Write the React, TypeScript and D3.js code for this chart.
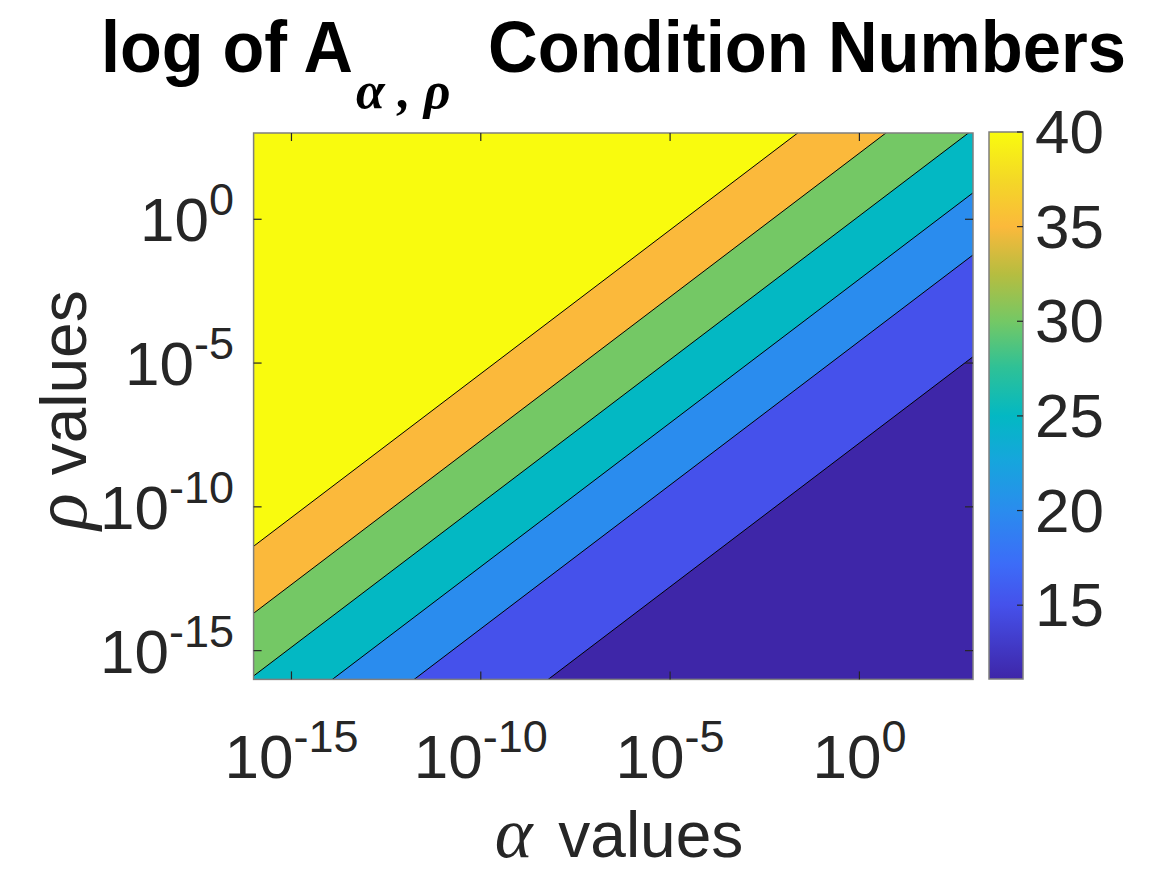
import React, { useEffect, useRef } from 'react';
import * as d3 from 'd3';

// contour levels (log of condition number) and where each contour line sits,
// as offset log10(rho) - log10(alpha)
const levels = [15, 20, 25, 30, 35, 40];
const lineOffsets = [-7.78, -4.24, -2.08, 0.12, 2.3, 4.63];
const colorRange = [11.1, 40];

const axisDomain = [1e-16, 1e3];
const xTicks = [-15, -10, -5, 0];
const yTicks = [-15, -10, -5, 0];
const cbarTicks = [15, 20, 25, 30, 35, 40];

// parula-like colormap stops
const parula: [number, string][] = [
  [0.0, '#3E26A8'],
  [0.135, '#4551EB'],
  [0.21, '#3C6CF8'],
  [0.308, '#2A8CEE'],
  [0.4, '#16A6DC'],
  [0.481, '#03B8C3'],
  [0.57, '#2FC196'],
  [0.654, '#74C865'],
  [0.74, '#B6BD40'],
  [0.827, '#FBB93B'],
  [0.91, '#F4D727'],
  [1.0, '#F9FB0E'],
];

const W = 1167;
const H = 875;
const plot = { left: 253.6, right: 973, top: 133, bottom: 679.4 };
const cbar = { left: 989, right: 1023, top: 132, bottom: 679 };
const SANS = '"Liberation Sans", Arial, Helvetica, sans-serif';
const SERIF = '"Liberation Serif", "Times New Roman", serif';

export default function App() {
  const ref = useRef<SVGSVGElement>(null);

  useEffect(() => {
    if (!ref.current) return;
    const svg = d3.select(ref.current);
    svg.selectAll('*').remove();

    const x = d3.scaleLog().domain(axisDomain).range([plot.left, plot.right]);
    const y = d3.scaleLog().domain(axisDomain).range([plot.bottom, plot.top]);
    const cmap = d3
      .scaleLinear<string>()
      .domain(parula.map((d) => colorRange[0] + d[0] * (colorRange[1] - colorRange[0])))
      .range(parula.map((d) => d[1]))
      .interpolate(d3.interpolateRgb)
      .clamp(true);

    const defs = svg.append('defs');
    defs
      .append('clipPath')
      .attr('id', 'plotclip')
      .append('rect')
      .attr('x', plot.left)
      .attr('y', plot.top)
      .attr('width', plot.right - plot.left)
      .attr('height', plot.bottom - plot.top);

    const grad = defs
      .append('linearGradient')
      .attr('id', 'cbar')
      .attr('x1', 0).attr('x2', 0)
      .attr('y1', 1).attr('y2', 0);
    grad
      .selectAll('stop')
      .data(parula)
      .join('stop')
      .attr('offset', (d) => d[0])
      .attr('stop-color', (d) => d[1]);

    const g = svg.append('g').attr('clip-path', 'url(#plotclip)');

    // lowest band
    g.append('rect')
      .attr('x', plot.left)
      .attr('y', plot.top)
      .attr('width', plot.right - plot.left)
      .attr('height', plot.bottom - plot.top)
      .attr('fill', cmap(colorRange[0]));

    const a0 = axisDomain[0];
    const a1 = axisDomain[1];
    const bandPath = (c: number) => {
      const pts: [number, number][] = [
        [x(a0), y(a0 * Math.pow(10, c))],
        [x(a1), y(a1 * Math.pow(10, c))],
        [x(a1), plot.top - 2000],
        [x(a0), plot.top - 2000],
      ];
      return d3.line()(pts) + 'Z';
    };

    g.selectAll('.band')
      .data(levels)
      .join('path')
      .attr('class', 'band')
      .attr('d', (_, i) => bandPath(lineOffsets[i]))
      .attr('fill', (d) => cmap(d));

    g.selectAll('.cline')
      .data(lineOffsets)
      .join('path')
      .attr('class', 'cline')
      .attr('d', (c) =>
        d3.line()([
          [x(a0), y(a0 * Math.pow(10, c))],
          [x(a1), y(a1 * Math.pow(10, c))],
        ])
      )
      .attr('fill', 'none')
      .attr('stroke', '#000')
      .attr('stroke-width', 1);

    // box
    svg.append('rect')
      .attr('x', plot.left)
      .attr('y', plot.top)
      .attr('width', plot.right - plot.left)
      .attr('height', plot.bottom - plot.top)
      .attr('fill', 'none')
      .attr('stroke', '#7f7f7f')
      .attr('stroke-width', 1.5);

    const tl = 8;
    const tickG = svg.append('g').attr('stroke', '#262626').attr('stroke-width', 1.2);
    xTicks.forEach((e) => {
      const px = x(Math.pow(10, e));
      tickG.append('line').attr('x1', px).attr('x2', px).attr('y1', plot.bottom).attr('y2', plot.bottom - tl);
      tickG.append('line').attr('x1', px).attr('x2', px).attr('y1', plot.top).attr('y2', plot.top + tl);
    });
    yTicks.forEach((e) => {
      const py = y(Math.pow(10, e));
      tickG.append('line').attr('x1', plot.left).attr('x2', plot.left + tl).attr('y1', py).attr('y2', py);
      tickG.append('line').attr('x1', plot.right).attr('x2', plot.right - tl).attr('y1', py).attr('y2', py);
    });

    const tickFont = 62;
    const supFont = 45;
    const addPow = (sel: any, e: number) => {
      sel.append('tspan').text('10');
      sel.append('tspan').attr('dy', -26).attr('font-size', supFont).text(String(e));
    };

    svg.selectAll('.xlab')
      .data(xTicks)
      .join('text')
      .attr('class', 'xlab')
      .attr('x', (e) => x(Math.pow(10, e)))
      .attr('y', 778)
      .attr('text-anchor', 'middle')
      .attr('font-family', SANS)
      .attr('font-size', tickFont)
      .attr('fill', '#262626')
      .each(function (e) {
        addPow(d3.select(this), e);
      });

    svg.selectAll('.ylab')
      .data(yTicks)
      .join('text')
      .attr('class', 'ylab')
      .attr('x', 234)
      .attr('y', (e) => y(Math.pow(10, e)) + 22)
      .attr('text-anchor', 'end')
      .attr('font-family', SANS)
      .attr('font-size', tickFont)
      .attr('fill', '#262626')
      .each(function (e) {
        addPow(d3.select(this), e);
      });

    // axis labels
    const xl = svg.append('text')
      .attr('x', 619)
      .attr('y', 857)
      .attr('text-anchor', 'middle')
      .attr('font-family', SANS)
      .attr('font-size', 64)
      .attr('fill', '#262626');
    xl.append('tspan').attr('font-family', SERIF).attr('font-style', 'italic').attr('font-size', 72).text('α');
    xl.append('tspan').attr('dx', 8).text(' values');

    const yl = svg.append('text')
      .attr('transform', `translate(86,410) rotate(-90)`)
      .attr('text-anchor', 'middle')
      .attr('font-family', SANS)
      .attr('font-size', 64)
      .attr('fill', '#262626');
    yl.append('tspan').attr('font-family', SERIF).attr('font-style', 'italic').attr('font-size', 76).text('ρ');
    yl.append('tspan').text(' values');

    // title
    const titleG = svg.append('g')
      .attr('font-family', SANS)
      .attr('font-weight', 'bold')
      .attr('font-size', 72)
      .attr('fill', '#000');
    titleG.append('text')
      .attr('x', 101)
      .attr('y', 72)
      .attr('textLength', 252)
      .attr('lengthAdjust', 'spacingAndGlyphs')
      .text('log of A');
    titleG.append('text')
      .attr('x', 356)
      .attr('y', 108)
      .attr('font-family', SERIF)
      .attr('font-style', 'italic')
      .attr('font-weight', 'bold')
      .attr('font-size', 52)
      .text('α , ρ');
    titleG.append('text')
      .attr('x', 488)
      .attr('y', 72)
      .attr('textLength', 638)
      .attr('lengthAdjust', 'spacingAndGlyphs')
      .text('Condition Numbers');

    // colorbar
    const cy = d3.scaleLinear().domain(colorRange).range([cbar.bottom, cbar.top]);
    svg.append('rect')
      .attr('x', cbar.left)
      .attr('y', cbar.top)
      .attr('width', cbar.right - cbar.left)
      .attr('height', cbar.bottom - cbar.top)
      .attr('fill', 'url(#cbar)')
      .attr('stroke', '#7f7f7f')
      .attr('stroke-width', 1.5);

    svg.selectAll('.ctick')
      .data(cbarTicks)
      .join('line')
      .attr('class', 'ctick')
      .attr('x1', cbar.right)
      .attr('x2', cbar.right - 6)
      .attr('y1', (d) => cy(d))
      .attr('y2', (d) => cy(d))
      .attr('stroke', '#262626')
      .attr('stroke-width', 1.2);

    svg.selectAll('.clab')
      .data(cbarTicks)
      .join('text')
      .attr('class', 'clab')
      .attr('x', 1035)
      .attr('y', (d) => cy(d) + 21)
      .attr('font-family', SANS)
      .attr('font-size', tickFont)
      .attr('fill', '#262626')
      .text((d) => d);
  }, []);

  return (
    <svg
      ref={ref}
      width={W}
      height={H}
      style={{ position: 'absolute', left: 0, top: 0, background: '#fff' }}
    />
  );
}
